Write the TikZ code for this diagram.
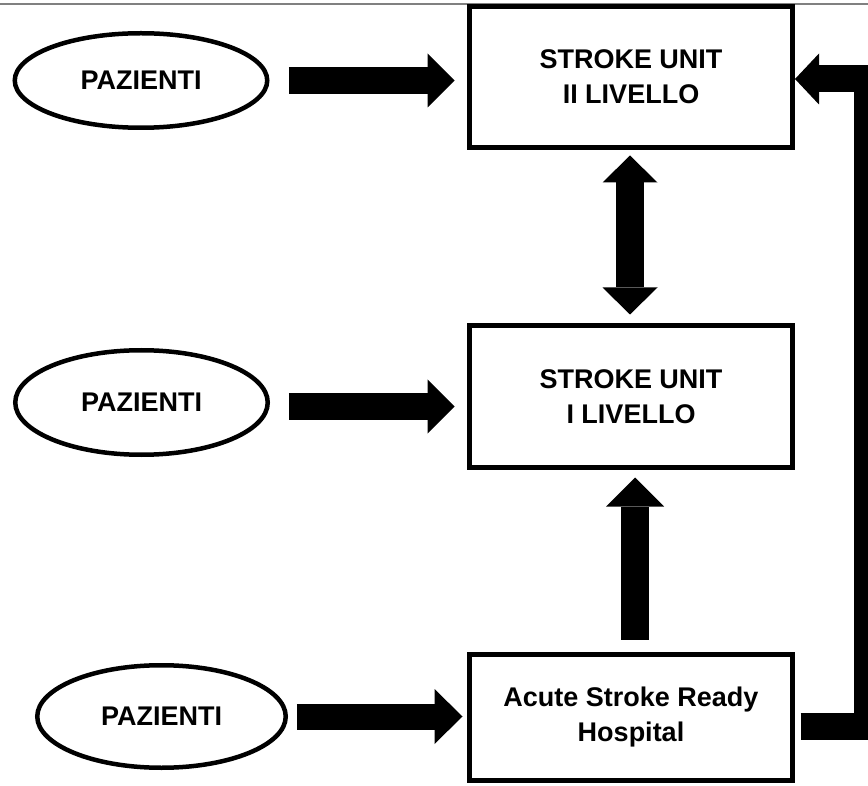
\documentclass[tikz,border=0pt]{standalone}
\usepackage{fontspec}
\setmainfont{Liberation Sans}
\usetikzlibrary{arrows.meta,shapes.geometric,calc}
\tikzset{
  boxnode/.style={draw, rectangle, line width=5pt, fill=white, minimum width=323pt,
    inner sep=0pt, align=center, font=\bfseries\fontsize{27}{35}\selectfont},
  patnode/.style={draw, ellipse, line width=4.5pt, inner sep=0pt,
    font=\bfseries\fontsize{27}{32}\selectfont},
  bigarrow/.style={line width=27pt, -{Triangle[length=27pt,width=54pt,line width=0pt]}},
  toprule/.style={draw=black!50, line width=2pt}
}
\begin{document}
\begin{tikzpicture}[x=1pt,y=-1pt]
\useasboundingbox (0,0) rectangle (868,786);
\clip (0,0) rectangle (868,786);
\draw[toprule] (0,4.5) -- (868,4.5);

\node[boxnode, minimum height=141pt] (b1) at (631,77) {STROKE UNIT\\II LIVELLO};
\node[boxnode, minimum height=142pt] (b2) at (631,396.5) {STROKE UNIT\\I LIVELLO};
\node[boxnode, minimum height=126pt] (b3) at (631,717.5) {Acute Stroke Ready\\Hospital};

\node[patnode, minimum width=252.5pt, minimum height=94.5pt] (e1) at (141,80.5) {PAZIENTI};
\node[patnode, minimum width=252.5pt, minimum height=104.5pt] (e2) at (141.5,402.5) {PAZIENTI};
\node[patnode, minimum width=248.5pt, minimum height=102.5pt] (e3) at (161.5,716.5) {PAZIENTI};

% patients -> units
\draw[bigarrow, shorten <=19.25pt, shorten >=12.5pt] (e1.east) -- (e1.east -| b1.west);
\draw[bigarrow, shorten <=18.75pt, shorten >=12.5pt] ([yshift=-4pt]e2.east) -- ([yshift=-4pt]e2.east -| b2.west);
\draw[line width=26pt, -{Triangle[length=28pt,width=55pt,line width=0pt]}, shorten <=8.75pt, shorten >=4.5pt]
  (e3.east) -- (e3.east -| b3.west);

% II <-> I
\draw[line width=28pt, {Triangle[length=27pt,width=55pt,line width=0pt]}-{Triangle[length=27pt,width=55pt,line width=0pt]},
  shorten <=5.5pt, shorten >=8.5pt] ([xshift=-1pt]b1.south) -- ([xshift=-1pt]b2.north);

% ASRH -> I
\draw[line width=28pt, -{Triangle[length=29pt,width=58pt,line width=0pt]}, shorten <=12.5pt, shorten >=7.5pt]
  ([xshift=4pt]b3.north) -- ([xshift=4pt]b2.south);

% ASRH -> II (elbow)
\draw[line width=27pt, line join=miter, -{Triangle[length=24pt,width=51pt,line width=0pt]}]
  ([xshift=5.5pt,yshift=-8.5pt]b3.east) -| ([xshift=72.5pt,yshift=-2pt]b1.east) -- ([yshift=-2pt]b1.east);
\end{tikzpicture}
\end{document}
